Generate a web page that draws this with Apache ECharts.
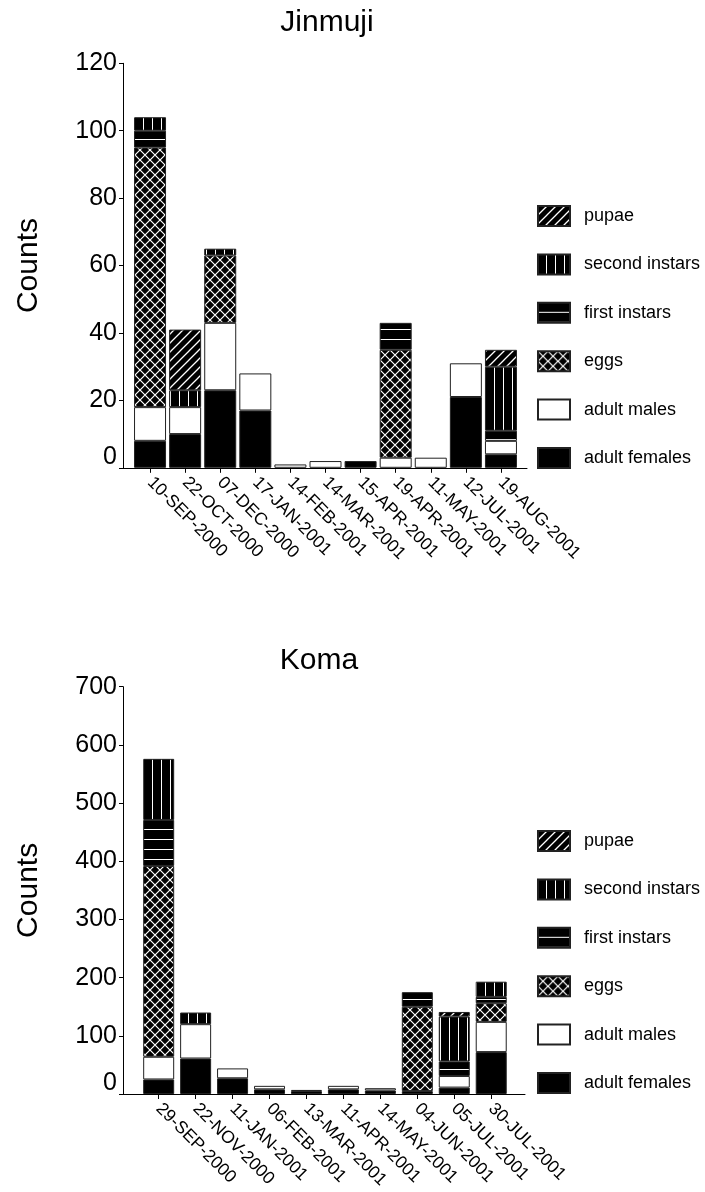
<!DOCTYPE html>
<html>
<head>
<meta charset="utf-8">
<script src="https://cdn.jsdelivr.net/npm/echarts@6/dist/echarts.min.js"></script>
<style>html,body{margin:0;padding:0;background:#fff}#c{width:705px;height:1192px}</style>
</head>
<body>
<div id="c"></div>
<script>
// ---- Data ----
var seriesNames = ['adult females','adult males','eggs','first instars','second instars','pupae'];
var legendOrder = ['pupae','second instars','first instars','eggs','adult males','adult females'];

var jinCategories = ['10-SEP-2000','22-OCT-2000','07-DEC-2000','17-JAN-2001','14-FEB-2001','14-MAR-2001','15-APR-2001','19-APR-2001','11-MAY-2001','12-JUL-2001','19-AUG-2001'];
var jinFemales = [8,10,23,17,0,0,2,0,0,21,4];
var jinMales   = [10,8,20,11,1,2,0,3,3,10,4];
var jinEggs    = [77,0,20,0,0,0,0,32,0,0,0];
var jinFirst   = [5,0,0,0,0,0,0,8,0,0,3];
var jinSecond  = [4,5,2,0,0,0,0,0,0,0,19];
var jinPupae   = [0,18,0,0,0,0,0,0,0,0,5];

var komCategories = ['29-SEP-2000','22-NOV-2000','11-JAN-2001','06-FEB-2001','13-MAR-2001','11-APR-2001','14-MAY-2001','04-JUN-2001','05-JUL-2001','30-JUL-2001'];
var komFemales = [25,61,27,8,5,8,6,5,11,72];
var komMales   = [39,59,17,6,2,6,4,0,20,52];
var komEggs    = [328,0,0,0,0,0,0,145,0,32];
var komFirst   = [79,0,0,0,0,0,0,25,25,11];
var komSecond  = [105,20,0,0,0,0,0,0,77,26];
var komPupae   = [0,0,0,0,0,0,0,0,8,0];

// ---- Patterns ----
function makePattern(kind){
  var s = (kind==='eggs') ? 10 : (kind==='first' ? 10 : 9);
  var cv = document.createElement('canvas');
  cv.width = s; cv.height = s;
  var g = cv.getContext('2d');
  g.fillStyle = '#000'; g.fillRect(0,0,s,s);
  g.strokeStyle = '#fff';
  g.lineWidth = 1;
  g.beginPath();
  if (kind==='eggs'){
    g.moveTo(0,0); g.lineTo(s,s);
    g.moveTo(s,0); g.lineTo(0,s);
    g.lineWidth = 1.2;
  } else if (kind==='first'){
    g.moveTo(0,s-0.5); g.lineTo(s,s-0.5);
  } else if (kind==='second'){
    g.moveTo(s-0.5,0); g.lineTo(s-0.5,s);
  } else if (kind==='pupae'){
    g.moveTo(0,s); g.lineTo(s,0);
    g.moveTo(-s/2,s/2); g.lineTo(s/2,-s/2);
    g.moveTo(s/2,s*1.5); g.lineTo(s*1.5,s/2);
    g.lineWidth = 1.3;
  }
  g.stroke();
  return {image: cv, repeat: 'repeat'};
}
var fills = ['#000000','#ffffff',makePattern('eggs'),makePattern('first'),makePattern('second'),makePattern('pupae')];

function nz(arr){ return arr.map(function(v){ return v===0 ? null : v; }); }

function buildSeries(idx, stack, barW, arrays){
  return arrays.map(function(arr, i){
    return {
      name: seriesNames[i], type: 'bar', stack: stack,
      xAxisIndex: idx, yAxisIndex: idx,
      barWidth: barW,
      data: nz(arr),
      itemStyle: {color: fills[i], borderColor: '#222', borderWidth: 1},
      emphasis: {disabled: true},
      animation: false
    };
  });
}

var font = 'Liberation Sans, Arial, sans-serif';
var zeroFmt = function(v){ return v===0 ? '{z|0}' : String(v); };

function valueAxis(idx, max, interval, offset){
  return {
    type: 'value', gridIndex: idx, min: 0, max: max, interval: interval, offset: offset,
    name: 'Counts', nameLocation: 'middle', nameGap: 79.5,
    nameTextStyle: {fontFamily: font, fontSize: 30, color: '#000'},
    axisLine: {show: true, lineStyle: {color: '#000', width: 1}},
    axisTick: {show: true, length: 4, lineStyle: {color: '#000'}},
    splitLine: {show: false},
    axisLabel: {fontFamily: font, fontSize: 25, color: '#000', margin: 6, formatter: zeroFmt,
      rich: {z: {fontFamily: font, fontSize: 25, color: '#000', padding: [0,0,21,0]}}}
  };
}
function catAxis(idx, cats){
  return {
    type: 'category', gridIndex: idx, data: cats,
    axisLine: {show: false},
    axisTick: {show: true, alignWithLabel: true, length: 5, lineStyle: {color: '#000'}},
    axisLabel: {rotate: -45, fontFamily: font, fontSize: 17.5, color: '#000', margin: 12, interval: 0}
  };
}
function lineAxisX(idx){
  return {type: 'value', gridIndex: idx, min: 0, max: 1,
    axisLine: {show: true, onZero: false, lineStyle: {color: '#000', width: 1}},
    axisTick: {show: false}, axisLabel: {show: false}, splitLine: {show: false}};
}
function lineAxisY(idx){
  return {type: 'value', gridIndex: idx, min: 0, max: 1, show: false};
}

var legendCommon = {
  orient: 'vertical', data: legendOrder, icon: 'rect', itemWidth: 32, itemHeight: 20, itemGap: 26.4,
  selectedMode: false,
  textStyle: {fontFamily: font, fontSize: 18, color: '#000', padding: [0,0,0,9]}
};

var option = {
  backgroundColor: '#fff',
  animation: false,
  title: [
    {text: 'Jinmuji', left: 322, top: 3, textAlign: 'center', textStyle: {fontFamily: font, fontSize: 30, fontWeight: 'normal', color: '#000'}},
    {text: 'Koma', left: 314, top: 641, textAlign: 'center', textStyle: {fontFamily: font, fontSize: 30, fontWeight: 'normal', color: '#000'}}
  ],
  legend: [
    Object.assign({left: 532, top: 200}, legendCommon),
    Object.assign({left: 532, top: 825}, legendCommon)
  ],
  grid: [
    {left: 132.5, width: 386, top: 63.3, height: 404.5},
    {left: 140.2, width: 369.5, top: 686.7, height: 407.3},
    {left: 120, width: 407, top: 63.3, height: 404.5},
    {left: 120, width: 405, top: 686.7, height: 407.3}
  ],
  xAxis: [catAxis(0, jinCategories), catAxis(1, komCategories), lineAxisX(2), lineAxisX(3)],
  yAxis: [valueAxis(0, 120, 20, 9.5), valueAxis(1, 700, 100, 17.2), lineAxisY(2), lineAxisY(3)],
  series: [].concat(
    buildSeries(0, 'jin', 32, [jinFemales, jinMales, jinEggs, jinFirst, jinSecond, jinPupae]),
    buildSeries(1, 'kom', 31, [komFemales, komMales, komEggs, komFirst, komSecond, komPupae])
  )
};

var chart = echarts.init(document.getElementById('c'), null, {renderer: 'canvas'});
chart.setOption(option);
</script>
</body>
</html>
